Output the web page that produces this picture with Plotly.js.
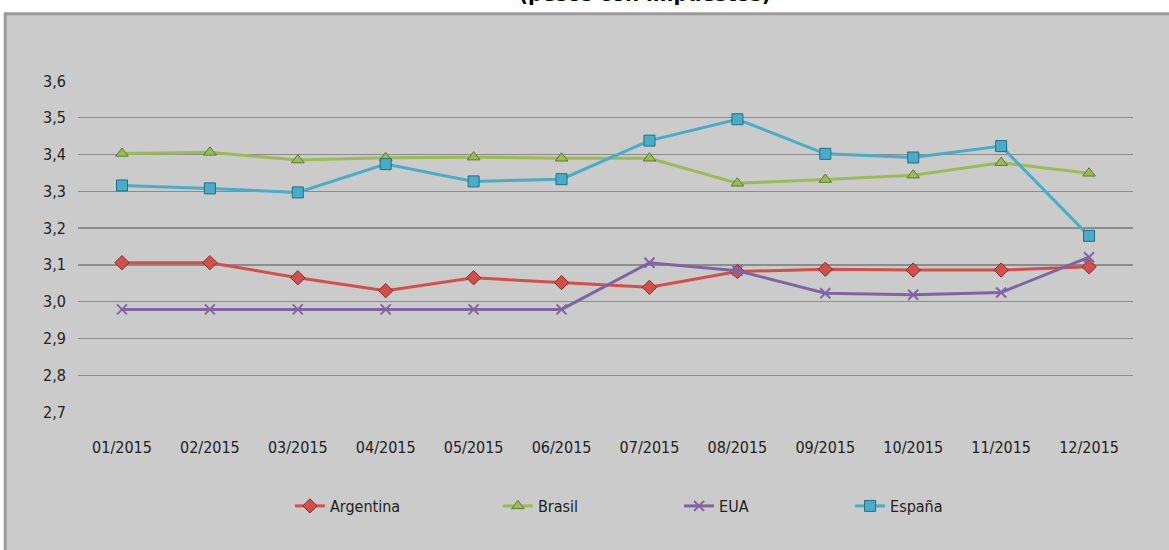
<!DOCTYPE html>
<html>
<head>
<meta charset="utf-8">
<script src="https://cdn.plot.ly/plotly-3.0.1.min.js"></script>
<style>html,body{margin:0;padding:0;background:#fff}#chart{width:1169px;height:550px}</style>
</head>
<body>
<div id="chart"></div>
<script>
const months = ["01/2015","02/2015","03/2015","04/2015","05/2015","06/2015","07/2015","08/2015","09/2015","10/2015","11/2015","12/2015"];
const argentina = [3.106,3.106,3.065,3.030,3.065,3.052,3.039,3.082,3.088,3.086,3.086,3.095];
const brasil    = [3.403,3.406,3.385,3.391,3.393,3.390,3.390,3.322,3.332,3.344,3.378,3.349];
const eua       = [2.979,2.979,2.979,2.979,2.979,2.979,3.106,3.084,3.023,3.019,3.025,3.121];
const espana    = [3.316,3.308,3.297,3.374,3.327,3.333,3.438,3.496,3.402,3.392,3.423,3.179];
const yTicks = [2.7,2.8,2.9,3.0,3.1,3.2,3.3,3.4,3.5,3.6];
const titleText = "(pesos con impuestos)";

const FONT = "'DejaVu Sans Condensed', 'Liberation Sans Narrow', sans-serif";

function tr(name, y, color, symbol, lineColor, legend) {
  return {
    type: 'scatter', mode: 'lines+markers', name: name, x: months, y: y,
    legend: legend,
    line: {color: color, width: 3},
    marker: {symbol: symbol, size: symbol === 'x-thin' ? 10 : 11, color: color,
             line: {color: lineColor, width: symbol === 'x-thin' ? 2 : 1}}
  };
}

const data = [
  tr('Argentina', argentina, '#d0504d', 'diamond', '#8a2a28', 'legend'),
  tr('Brasil', brasil, '#9bbb59', 'triangle-up', '#5a7a2a', 'legend2'),
  tr('EUA', eua, '#8064a2', 'x-thin', '#8064a2', 'legend3'),
  tr('España', espana, '#4bacc6', 'square', '#1f6f86', 'legend4')
];

function leg(x) {
  return {orientation: 'h', x: x, xanchor: 'left', y: -0.284, yanchor: 'middle',
          bgcolor: 'rgba(0,0,0,0)', font: {family: FONT, size: 16, color: '#222'}};
}

const layout = {
  width: 1169, height: 550,
  paper_bgcolor: '#ffffff', plot_bgcolor: 'rgba(0,0,0,0)',
  margin: {l: 78, r: 36, t: 81, b: 138},
  separators: ',.',
  font: {family: FONT, size: 16, color: '#222'},
  xaxis: {type: 'category', range: [-0.5, 11.5], showgrid: false, zeroline: false,
          showline: false, ticks: '', ticklabelstandoff: 24,
          tickfont: {family: FONT, size: 16, color: '#222'},
          automargin: false, fixedrange: true},
  yaxis: {range: [2.7, 3.6], tickvals: yTicks, tickformat: '.1f', showgrid: true,
          gridcolor: '#8c8c8c', gridwidth: 1.3, zeroline: false, showline: false, ticks: '',
          ticklabelstandoff: 11,
          tickfont: {family: FONT, size: 16, color: '#222'}, automargin: false, fixedrange: true},
  showlegend: true,
  legend: leg(0.2009),
  legend2: leg(0.398),
  legend3: leg(0.5697),
  legend4: leg(0.7318),
  shapes: [{type: 'rect', xref: 'paper', yref: 'paper', x0: -0.0690, x1: 1.04, y0: -0.43, y1: 1.2035,
            fillcolor: '#cbcbcb', line: {color: '#9a9a9a', width: 3}, layer: 'below'}],
  annotations: [{xref: 'paper', yref: 'paper', x: 0.537, y: 1.222, xanchor: 'center', yanchor: 'bottom',
                 text: '<b>' + titleText + '</b>', showarrow: false,
                 font: {family: FONT, size: 22, color: '#000'}}]
};

Plotly.newPlot('chart', data, layout, {displayModeBar: false, staticPlot: true});
</script>
</body>
</html>
